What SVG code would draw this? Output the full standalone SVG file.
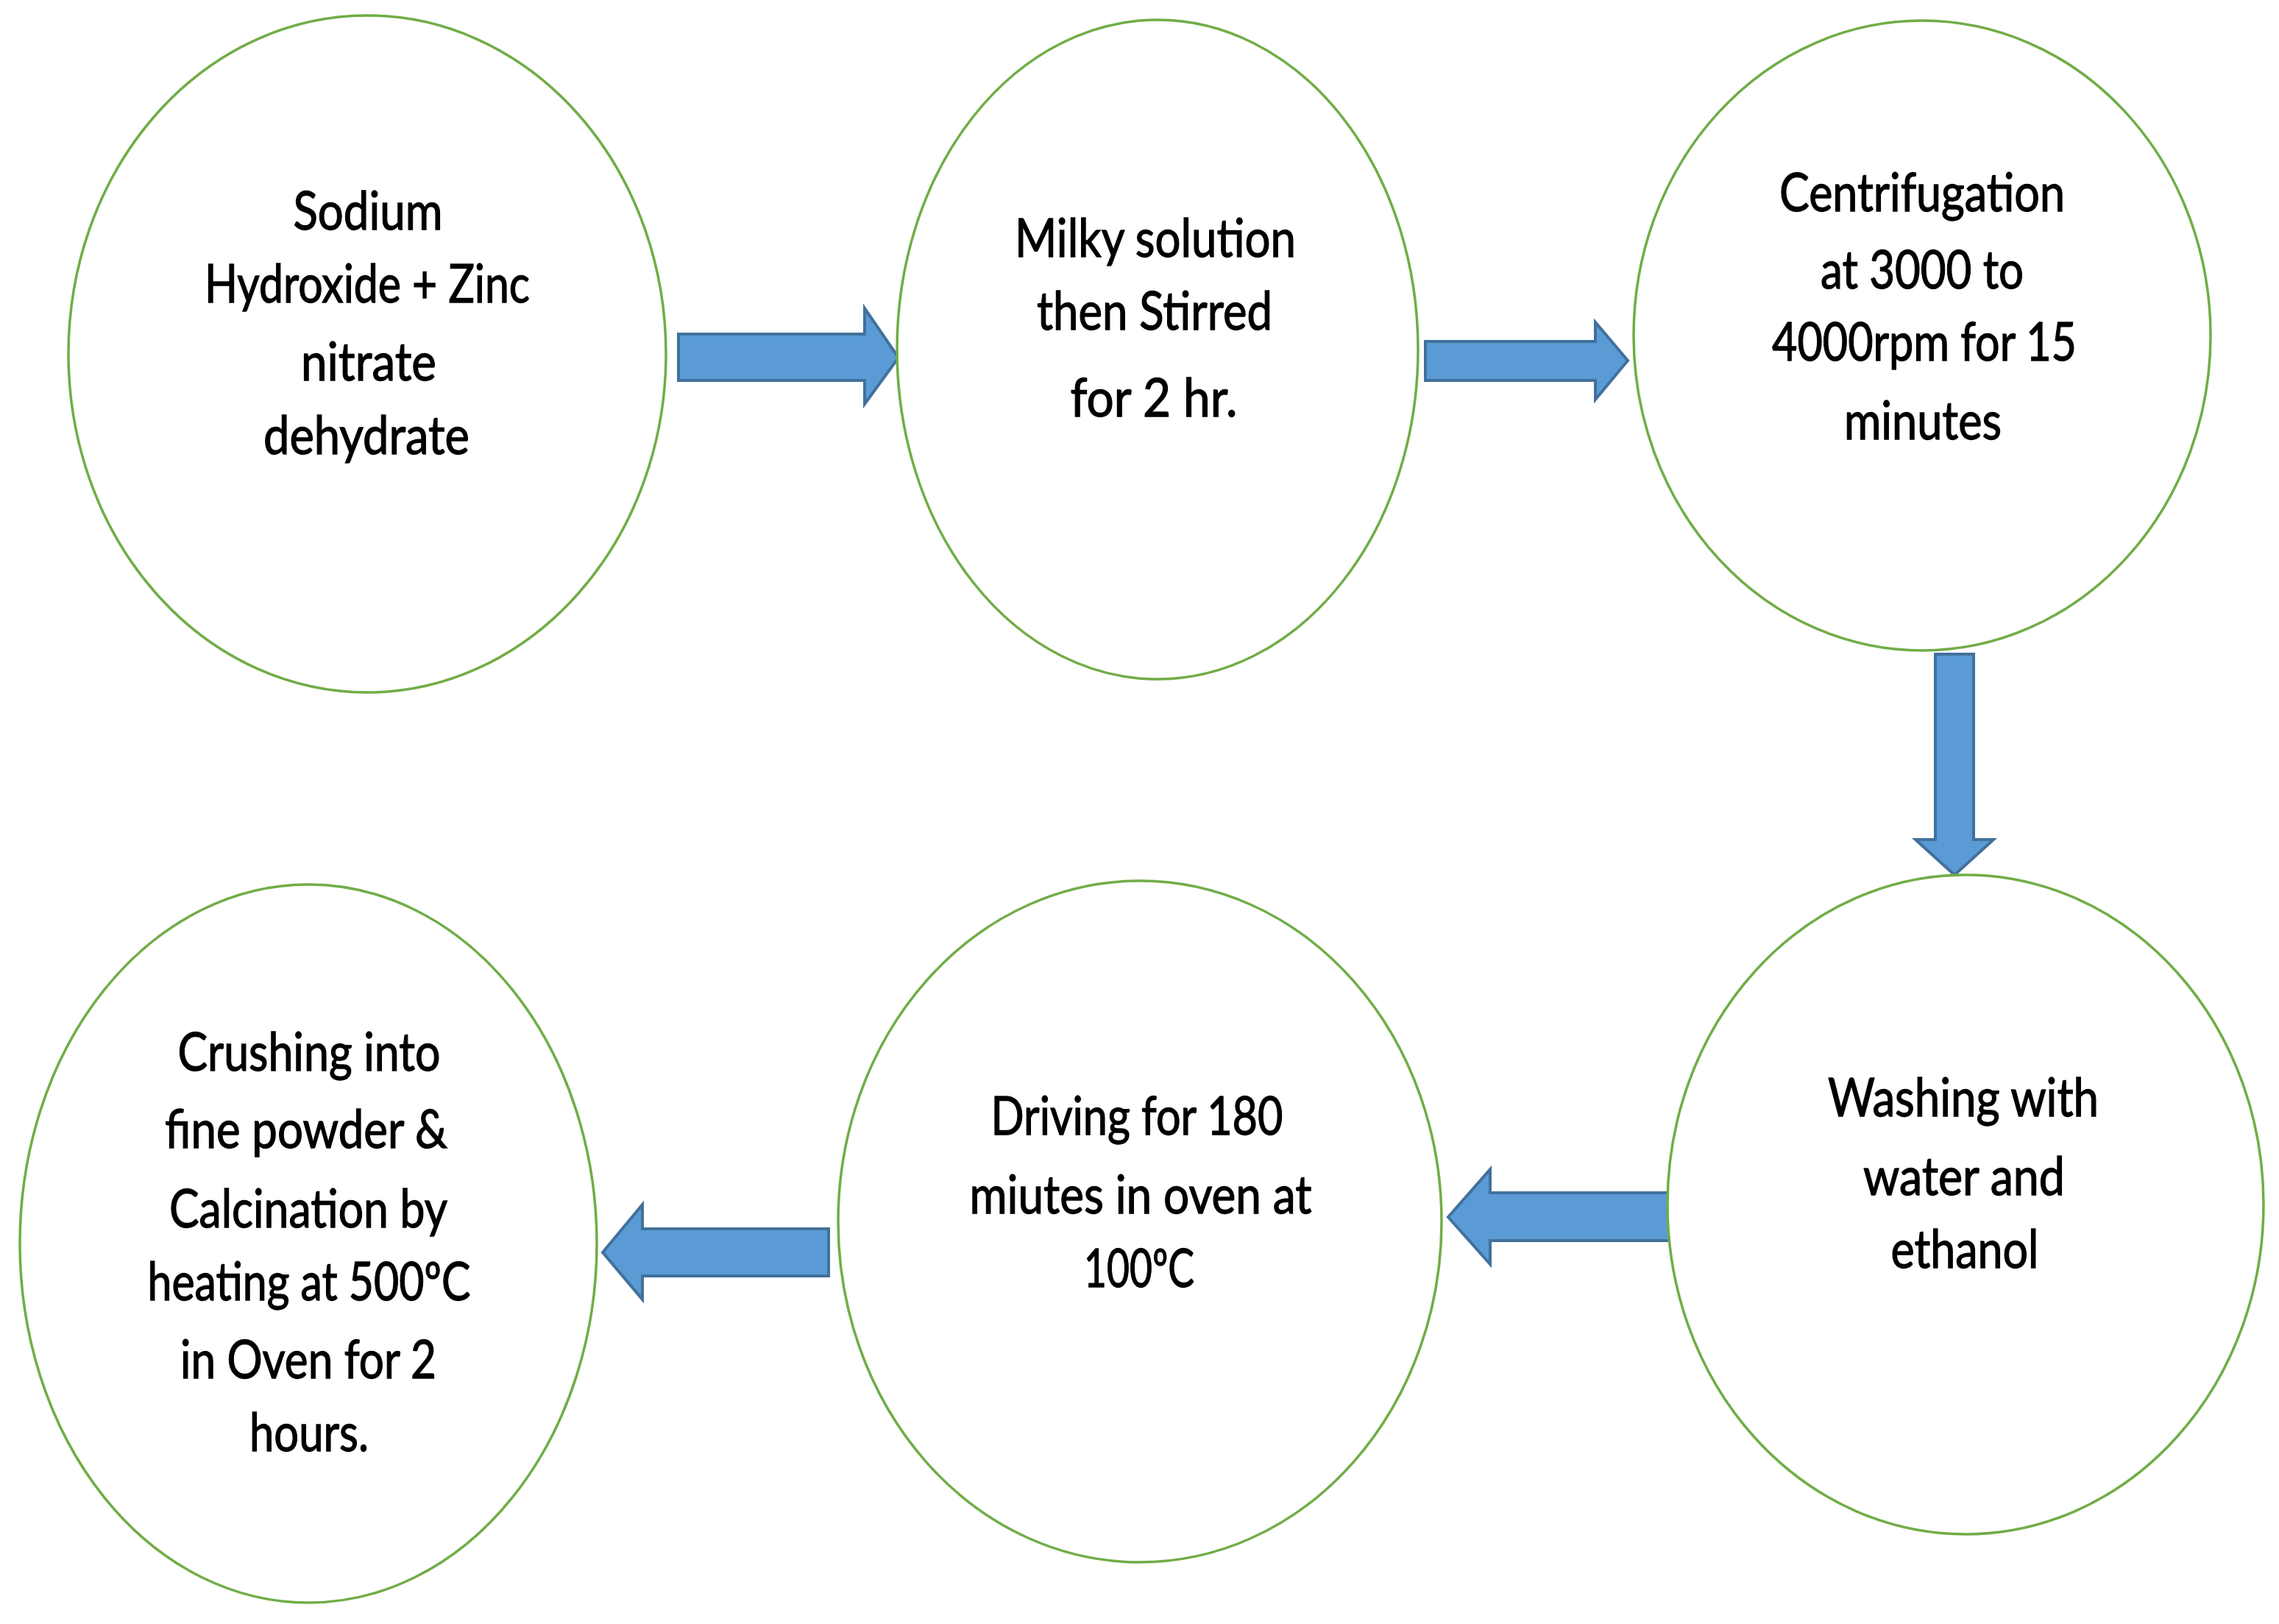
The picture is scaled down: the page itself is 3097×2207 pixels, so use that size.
<svg xmlns="http://www.w3.org/2000/svg" width="3097" height="2207" viewBox="0 0 3097 2207">
<style>
.node{fill:#FFFFFF;stroke:#70AD47;stroke-width:3.5}
.arrow{fill:#5B9BD5;stroke:#41719C;stroke-width:4;stroke-linejoin:miter}
.t{font-family:Lato,"Open Sans","Liberation Sans",sans-serif;font-size:72px;fill:#000000;stroke:#000000;stroke-width:1.3;text-anchor:middle}
</style>
<rect width="3097" height="2207" fill="#FFFFFF"/>
<g id="connectors">
<polygon class="arrow" points="922,454 1175,454 1175,419 1221,486 1175,549 1175,517 922,517"/>
<polygon class="arrow" points="1937,464 2168,464 2168,438 2212,490 2168,543 2168,517 1937,517"/>
<polygon class="arrow" points="2630,889 2682,889 2682,1141 2709,1141 2656,1189 2603,1141 2630,1141"/>
<polygon class="arrow" points="2271,1621 2025,1621 2025,1589 1968,1654 2025,1718 2025,1686 2271,1686"/>
<polygon class="arrow" points="1126,1670 873,1670 873,1637 819,1702 873,1766 873,1734 1126,1734"/>
</g>
<g id="node1">
<ellipse class="node" cx="499" cy="481" rx="406" ry="460"/>
<text class="t" x="500" y="312" textLength="203" lengthAdjust="spacingAndGlyphs">Sodium</text>
<text class="t" x="499" y="411" textLength="442" lengthAdjust="spacingAndGlyphs">Hydroxide + Zinc</text>
<text class="t" x="501" y="517" textLength="184" lengthAdjust="spacingAndGlyphs">nitrate</text>
<text class="t" x="498" y="617" textLength="280" lengthAdjust="spacingAndGlyphs">dehydrate</text>
</g>
<g id="node2">
<ellipse class="node" cx="1573" cy="475" rx="354" ry="448"/>
<text class="t" x="1570" y="349" textLength="382" lengthAdjust="spacingAndGlyphs">Milky solution</text>
<text class="t" x="1569" y="448" textLength="320" lengthAdjust="spacingAndGlyphs">then Stirred</text>
<text class="t" x="1568" y="566" textLength="227" lengthAdjust="spacingAndGlyphs">for 2 hr.</text>
</g>
<g id="node3">
<ellipse class="node" cx="2612" cy="456" rx="392" ry="428"/>
<text class="t" x="2612" y="287" textLength="388" lengthAdjust="spacingAndGlyphs">Centrifugation</text>
<text class="t" x="2612" y="392" textLength="276" lengthAdjust="spacingAndGlyphs">at 3000 to</text>
<text class="t" x="2615" y="490" textLength="414" lengthAdjust="spacingAndGlyphs">4000rpm for 15</text>
<text class="t" x="2613" y="597" textLength="214" lengthAdjust="spacingAndGlyphs">minutes</text>
</g>
<g id="node4">
<ellipse class="node" cx="2671" cy="1637" rx="405" ry="448"/>
<text class="t" x="2668" y="1517" textLength="368" lengthAdjust="spacingAndGlyphs">Washing with</text>
<text class="t" x="2669" y="1624" textLength="274" lengthAdjust="spacingAndGlyphs">water and</text>
<text class="t" x="2670" y="1723" textLength="201" lengthAdjust="spacingAndGlyphs">ethanol</text>
</g>
<g id="node5">
<ellipse class="node" cx="1549" cy="1660" rx="410" ry="463"/>
<text class="t" x="1545" y="1542" textLength="397" lengthAdjust="spacingAndGlyphs">Driving for 180</text>
<text class="t" x="1550" y="1649" textLength="465" lengthAdjust="spacingAndGlyphs">miutes in oven at</text>
<text class="t" x="1548" y="1749" textLength="150" lengthAdjust="spacingAndGlyphs">100ºC</text>
</g>
<g id="node6">
<ellipse class="node" cx="419" cy="1690" rx="392" ry="488"/>
<text class="t" x="420" y="1455" textLength="357" lengthAdjust="spacingAndGlyphs">Crushing into</text>
<text class="t" x="416" y="1560" textLength="384" lengthAdjust="spacingAndGlyphs">fine powder &amp;</text>
<text class="t" x="419" y="1668" textLength="378" lengthAdjust="spacingAndGlyphs">Calcination by</text>
<text class="t" x="420" y="1767" textLength="439" lengthAdjust="spacingAndGlyphs">heating at 500ºC</text>
<text class="t" x="419" y="1873" textLength="348" lengthAdjust="spacingAndGlyphs">in Oven for 2</text>
<text class="t" x="420" y="1972" textLength="162" lengthAdjust="spacingAndGlyphs">hours.</text>
</g>
</svg>
